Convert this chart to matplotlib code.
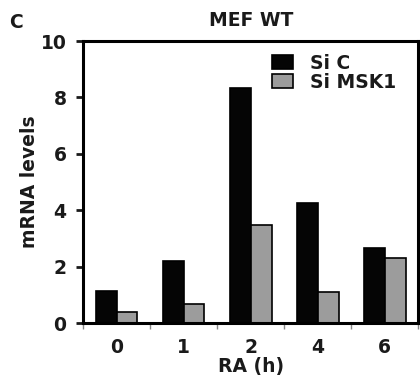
import numpy as np
import matplotlib
matplotlib.use("Agg")
import matplotlib.pyplot as plt
from matplotlib.ticker import FixedLocator

plt.rcParams['font.family'] = ['DejaVu Sans']
plt.rcParams['font.weight'] = 'bold'

# data
times = ["0", "1", "2", "4", "6"]
si_c = [1.13, 2.2, 8.33, 4.25, 2.68]
si_msk1 = [0.39, 0.67, 3.48, 1.1, 2.3]

txt = "#1a1a1a"
fs = 13.5

fig = plt.figure(figsize=(4.2, 3.87), dpi=100)
ax = fig.add_axes([0.198, 0.165, 0.798, 0.729])

x = np.arange(len(times))
w = 0.31
ax.bar(x - w / 2, si_c, w, color="#050505", edgecolor="black", linewidth=1.2, label="Si C")
ax.bar(x + w / 2, si_msk1, w, color="#9c9c9c", edgecolor="black", linewidth=1.2, label="Si MSK1")

ax.set_xlim(-0.5, len(times) - 0.5)
ax.set_ylim(0, 10)
ax.set_yticks([0, 2, 4, 6, 8, 10])
ax.set_xticks(x)
ax.set_xticklabels(times)
ax.xaxis.set_minor_locator(FixedLocator(np.arange(-0.5, len(times), 1)))

for s in ax.spines.values():
    s.set_linewidth(2.2)

ax.tick_params(axis='y', direction='out', length=5, width=2, pad=7, labelsize=fs, colors=txt)
ax.tick_params(axis='x', which='major', length=0, pad=11, labelsize=fs, colors=txt)
ax.tick_params(axis='x', which='minor', direction='out', length=4, width=1, color="#888888")

ax.set_xlabel("RA (h)", fontsize=fs, fontweight='bold', color=txt, labelpad=0)
ax.set_ylabel("mRNA levels", fontsize=fs, fontweight='bold', color=txt, labelpad=1.5)
ax.set_title("MEF WT", fontsize=fs, fontweight='bold', color=txt, pad=11)

fig.text(0.022, 0.928, "C", fontsize=fs, fontweight='bold', color=txt)

leg = ax.legend(loc='upper left', bbox_to_anchor=(0.53, 0.995), frameon=False,
                fontsize=fs, handlelength=1.1, handleheight=0.8, handletextpad=0.9,
                labelspacing=0.0, borderaxespad=0.2)
for t in leg.get_texts():
    t.set_color(txt)

fig.savefig("out.png", dpi=100)
